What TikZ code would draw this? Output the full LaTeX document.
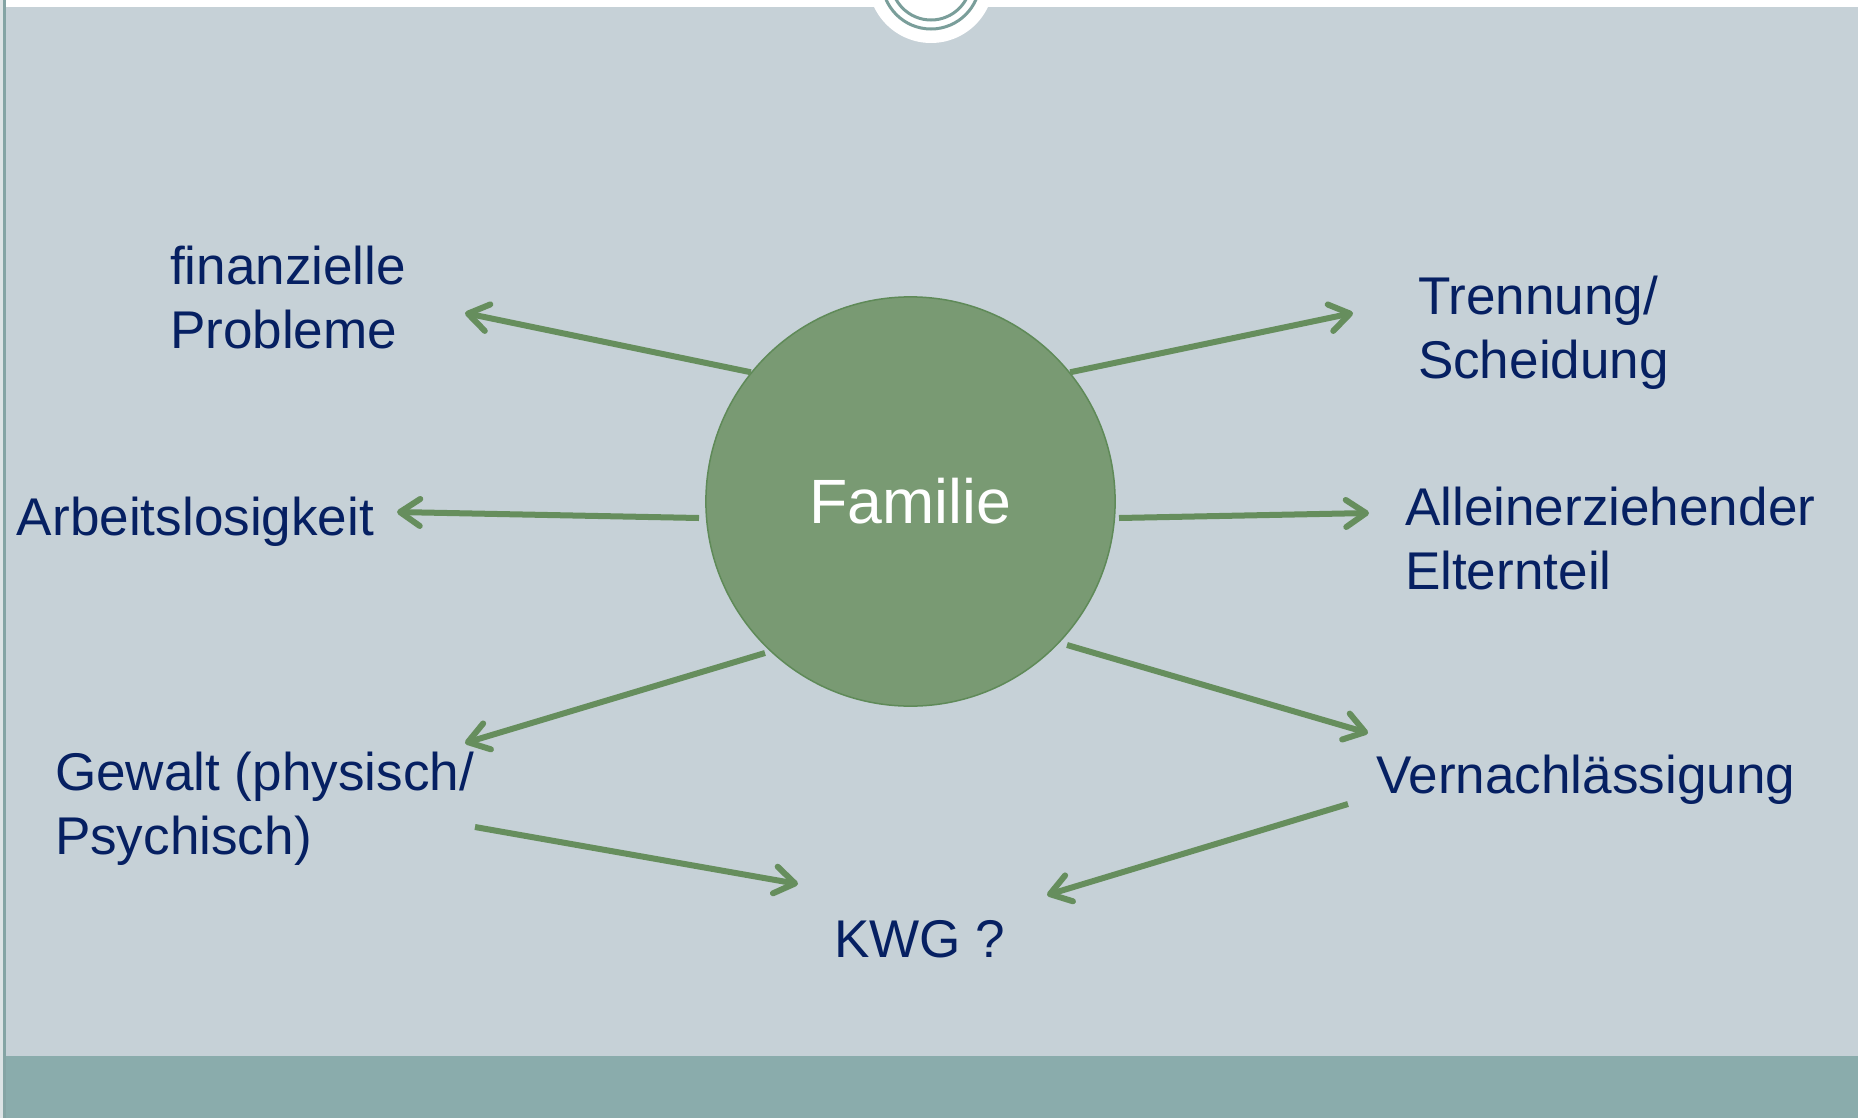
\documentclass[tikz,border=0pt]{standalone}
\usepackage{fontspec}
\setmainfont{Liberation Sans}
\usetikzlibrary{arrows.meta}
\definecolor{bg}{HTML}{C6D1D7}
\definecolor{band}{HTML}{8AACAC}
\definecolor{edgelight}{HTML}{DCE3E5}
\definecolor{edgeline}{HTML}{84A4A4}
\definecolor{ringc}{HTML}{7A9E9A}
\definecolor{famfill}{HTML}{799A73}
\definecolor{famborder}{HTML}{5F8A58}
\definecolor{arrowc}{HTML}{668E5D}
\definecolor{navy}{HTML}{062062}
\tikzset{
  lbl/.style={anchor=base west, inner sep=0pt, outer sep=0pt, text=navy, align=left,
    font=\fontsize{15.1}{18.2}\selectfont},
  conn/.style={draw=arrowc, line width=0.06cm,
    -{Straight Barb[length=0.2cm, width=0.27cm, round]}},
  ringline/.style={draw=ringc, line width=0.03cm}
}
\begin{document}
\begin{tikzpicture}[x=0.01cm, y=-0.01cm]
\useasboundingbox (0,0) rectangle (1858,1118);
\begin{scope}
\clip (0,0) rectangle (1858,1118);
\fill[bg] (0,0) rectangle (1858,1118);
\fill[white] (0,0) rectangle (1858,7);
\fill[band] (0,1056) rectangle (1858,1118);
\fill[edgelight] (0,0) rectangle (3,1118);
\fill[edgeline] (3,0) rectangle (6,1118);
\fill[white] (931,-20) circle (63);
\draw[ringline] (931,-20) circle (49);
\draw[ringline] (931,-20) circle (40);
\end{scope}

\node[circle, fill=famfill, draw=famborder, line width=0.015cm, minimum size=4.09cm,
  inner sep=0pt, text=white, font=\fontsize{17.8}{21}\selectfont] (fam) at (910.5,501.5) {Familie};

% multi-line labels: base anchor is the baseline of the last line
\node[lbl] (fin) at (170,348) {finanzielle\\Probleme};
\node[lbl] (arb) at (17,535) {Arbeitslosigkeit};
\node[lbl] (tren) at (1418,378) {Trennung/\\Scheidung};
\node[lbl] (all) at (1405,589) {Alleinerziehender\\Elternteil};
\node[lbl] (gew) at (55,854) {Gewalt (physisch/\\Psychisch)};
\node[lbl] (ver) at (1376,793) {Vernachlässigung};
\node[lbl] (kwg) at (834,957) {KWG ?};

\coordinate (tipFin) at (465,313);
\coordinate (tipTren) at (1353,313);
\coordinate (arbS) at (699,518);
\coordinate (tipArb) at (397,512);
\coordinate (allS) at (1119,518);
\coordinate (tipAll) at (1369,513);
\coordinate (gewS) at (765,653);
\coordinate (tipGew) at (465,743);
\coordinate (verS) at (1067,645);
\coordinate (tipVer) at (1368,733);
\coordinate (gewK) at (475,827);
\coordinate (kwgL) at (798,884);
\coordinate (verK) at (1348,804);
\coordinate (kwgR) at (1047,895);

\draw[conn] (fam.141) -- (tipFin);
\draw[conn] (fam.39) -- (tipTren);
\draw[conn] (arbS) -- (tipArb);
\draw[conn] (allS) -- (tipAll);
\draw[conn] (gewS) -- (tipGew);
\draw[conn] (verS) -- (tipVer);
\draw[conn] (gewK) -- (kwgL);
\draw[conn] (verK) -- (kwgR);
\end{tikzpicture}
\end{document}
